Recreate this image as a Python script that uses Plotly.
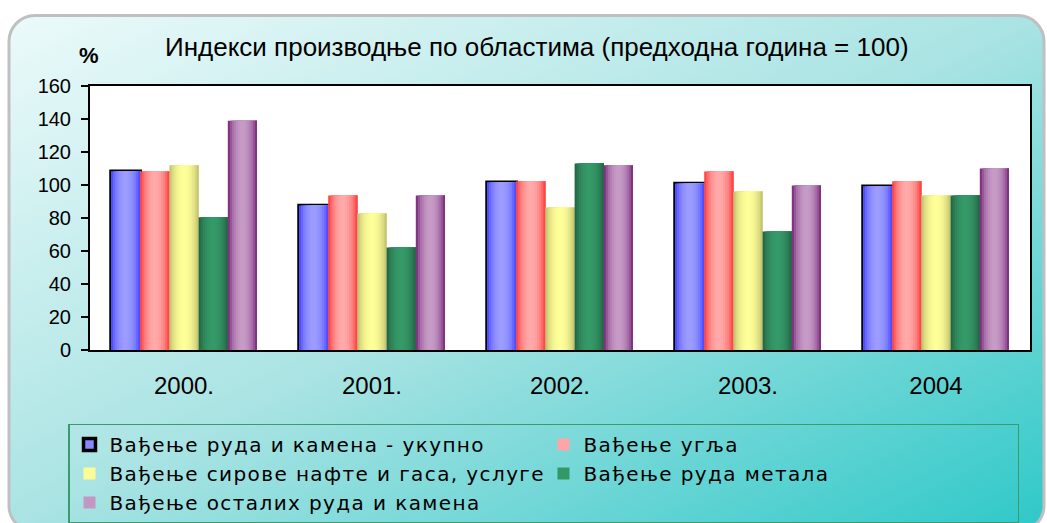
import base64
import math
import plotly.graph_objects as go

# data
years = ["2000.", "2001.", "2002.", "2003.", "2004"]
ukupno = [108.4, 87.6, 101.7, 100.9, 99.3]
ugalj = [108.2, 93.7, 102.2, 108.2, 102.2]
nafta_gas = [111.9, 82.7, 86.4, 96.1, 93.7]
rude_metala = [80.5, 62.1, 113.1, 71.8, 93.7]
ostale_rude = [138.9, 93.7, 111.9, 99.7, 110.0]

series_names = [
    "Вађење руда и камена - укупно",
    "Вађење угља",
    "Вађење сирове нафте и гаса, услуге",
    "Вађење руда метала",
    "Вађење осталих руда и камена",
]
series_values = [ukupno, ugalj, nafta_gas, rude_metala, ostale_rude]

# (dark edge, light centre) for the cylinder-like shading
shades = [
    ((0x33, 0x33, 0xFF), (0x9C, 0x9C, 0xFF)),
    ((0xFF, 0x20, 0x20), (0xFF, 0xAA, 0xAA)),
    ((0xB0, 0xB0, 0x66), (0xFF, 0xFF, 0x99)),
    ((0x1E, 0x58, 0x3A), (0x35, 0x99, 0x68)),
    ((0x66, 0x0C, 0x66), (0xC6, 0x9C, 0xC6)),
]

W, H = 1047, 523
ML, MR, MT, MB = 90, 17, 86, 173
PW, PH = W - ML - MR, H - MT - MB

BAR_W = 0.1553
GROUP_LEFT = -0.3883
N_STRIPS = 14


def mix(c1, c2, f):
    r, g, b = (round(a + (b_ - a) * f) for a, b_ in zip(c1, c2))
    return f"rgb({r},{g},{b})"


def shade(u):
    return math.sin(math.pi * u) ** 0.6


def spaced(label):
    # legend text in the reference is set with wide tracking
    return f'<span style="letter-spacing:1.4px">{label}</span>'


fig = go.Figure()

for i, (name, vals) in enumerate(zip(series_names, series_values)):
    dark, light = shades[i]
    left = GROUP_LEFT + i * BAR_W
    if i == 0:
        # black outlined first series (also carries the legend entry)
        fig.add_trace(go.Bar(
            x=years, y=vals, name=spaced(name), offset=left, width=BAR_W,
            marker=dict(color=mix(dark, light, 0.8), line=dict(color="black", width=3.5)),
            legendrank=1, showlegend=True, hoverinfo="skip",
        ))
    for k in range(N_STRIPS):
        u = (k + 0.5) / N_STRIPS
        sw = BAR_W * (N_STRIPS - k) / N_STRIPS
        show = (i > 0 and k == 5)
        fig.add_trace(go.Bar(
            x=years, y=vals, name=spaced(name),
            offset=left + BAR_W * k / N_STRIPS, width=sw,
            marker=dict(color=mix(dark, light, shade(u)), line=dict(width=0)),
            showlegend=show, legendrank=i + 1, hoverinfo="skip",
        ))

# background: diagonal gradient panel with rounded grey frame
svg = f'''<svg xmlns="http://www.w3.org/2000/svg" width="{W}" height="{H}" viewBox="0 0 {W} {H}">
<defs><linearGradient id="g" x1="0" y1="0" x2="1" y2="1">
<stop offset="0" stop-color="#ecfafa"/><stop offset="0.5" stop-color="#a9e3e3"/><stop offset="1" stop-color="#2ec8c8"/>
</linearGradient></defs>
<rect width="{W}" height="{H}" fill="#ffffff"/>
<rect x="9" y="15.5" width="1035" height="516" rx="26" ry="26" fill="url(#g)" stroke="#c0c0c0" stroke-width="3"/>
</svg>'''
src = "data:image/svg+xml;base64," + base64.b64encode(svg.encode("utf-8")).decode("ascii")

fig.update_layout(
    width=W, height=H,
    margin=dict(l=ML, r=MR, t=MT, b=MB, pad=0, autoexpand=False),
    barmode="overlay",
    paper_bgcolor="white",
    plot_bgcolor="rgba(0,0,0,0)",
    images=[dict(
        source=src, xref="paper", yref="paper",
        x=-ML / PW, y=1 + MT / PH, sizex=W / PW, sizey=H / PH,
        xanchor="left", yanchor="top", sizing="stretch", layer="below",
    )],
    shapes=[dict(
        type="rect", xref="paper", yref="paper", x0=0, x1=1, y0=0, y1=1,
        fillcolor="white", line=dict(width=0), layer="below",
    )],
    annotations=[
        dict(text="Индекси производње по областима (предходна година = 100)",
             xref="paper", yref="paper", x=(537 - ML) / PW, y=1 + (MT - 47) / PH,
             xanchor="center", yanchor="middle", showarrow=False,
             font=dict(family="Liberation Sans, Arial", size=26, color="black")),
        dict(text="<b>%</b>", xref="paper", yref="paper",
             x=(89 - ML) / PW, y=1 + (MT - 55) / PH,
             xanchor="center", yanchor="middle", showarrow=False,
             font=dict(family="Liberation Sans, Arial", size=22, color="black")),
    ],
    xaxis=dict(
        range=[-0.5, 4.5], showgrid=False, zeroline=False,
        showline=True, mirror=True, linecolor="black", linewidth=2,
        ticks="", ticklabelstandoff=13,
        tickfont=dict(family="Liberation Sans, Arial", size=24, color="black"),
    ),
    yaxis=dict(
        range=[0, 160], dtick=20, showgrid=False, zeroline=False,
        showline=True, mirror=True, linecolor="black", linewidth=2,
        ticks="outside", ticklen=7, tickcolor="black", tickwidth=1.5,
        ticklabelstandoff=6,
        tickfont=dict(family="Liberation Sans, Arial", size=20, color="black"),
    ),
    legend=dict(
        orientation="h", x=(68 - ML) / PW, y=-(423.5 - MT - PH) / PH,
        xanchor="left", yanchor="top",
        entrywidth=429, entrywidthmode="pixels",
        bgcolor="rgba(0,0,0,0)", bordercolor="#3d9a6c", borderwidth=1.5,
        font=dict(family="DejaVu Sans", size=20, color="black"),
        traceorder="normal",
    ),
)

fig.write_html("out.html", config={"displayModeBar": False},
               post_script="document.body.style.margin='0';")
